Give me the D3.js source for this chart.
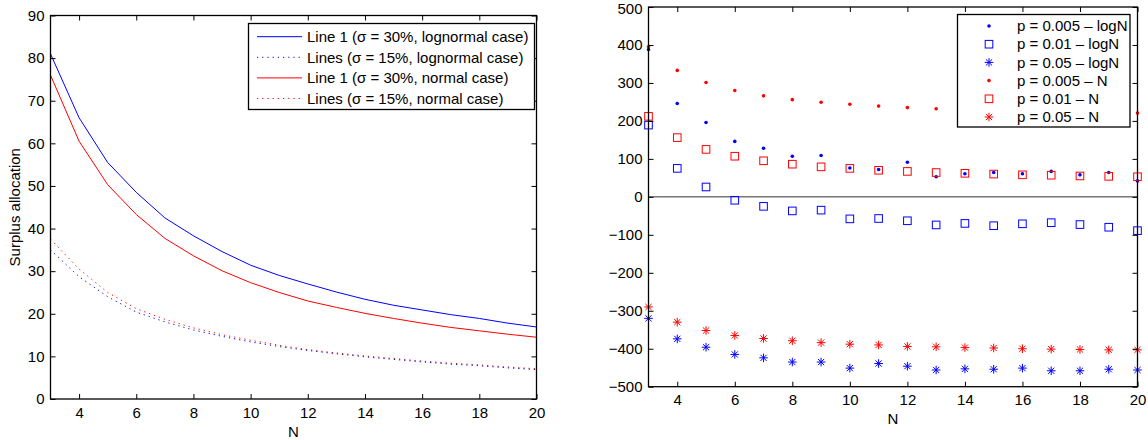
<!DOCTYPE html>
<html><head><meta charset="utf-8">
<script src="https://cdn.jsdelivr.net/npm/d3@7"></script>
<style>
body{margin:0;background:#fff;}
svg{display:block;font-family:"Liberation Sans",Arial,Helvetica,sans-serif;}
</style></head>
<body><svg id="c" width="1148" height="440"></svg>
<script>
// ---- data ----
const N = [3,4,5,6,7,8,9,10,11,12,13,14,15,16,17,18,19,20];
// left panel: surplus allocation
const logn30 = [81,66,55.5,48.5,42.5,38.3,34.6,31.4,29,27,25.1,23.4,22,20.9,19.8,18.9,17.8,16.9];
const logn15 = [35,28.7,24,20.4,18.1,16.2,14.7,13.4,12.3,11.4,10.6,9.9,9.3,8.7,8.2,7.8,7.3,6.9];
const norm30 = [76,60.5,50.3,43.3,37.7,33.6,30.1,27.3,25,23,21.5,20.1,18.9,17.8,16.8,16,15.2,14.5];
const norm15 = [37.5,30.5,25,21.2,18.7,16.7,15.1,13.8,12.6,11.6,10.8,10.1,9.5,8.9,8.4,8,7.5,7.1];
const leftYTicks = [0,10,20,30,40,50,60,70,80,90];
const xTicks = [4,6,8,10,12,14,16,18,20];
const leftLabels = ["Line 1 (σ = 30%, lognormal case)","Lines (σ = 15%, lognormal case)","Line 1 (σ = 30%, normal case)","Lines (σ = 15%, normal case)"];
// right panel
const p005logN = [388,246,196,146,128,107,109,76,72,91,53,61,64,61,67,58,64,42];
const p01logN  = [189,75,26,-9,-25,-37,-35,-58,-57,-63,-74,-70,-76,-71,-68,-73,-80,-89];
const p05logN  = [-320,-374,-396,-415,-424,-435,-435,-451,-439,-446,-456,-453,-454,-451,-458,-458,-454,-456];
const p005N    = [395,333,301,280,266,256,249,244,239,235,232,230,228,226,225,223,222,221];
const p01N     = [212,156,125,107,95,86,79,75,70,67,64,62,60,58,57,55,54,53];
const p05N     = [-290,-330,-352,-365,-373,-379,-384,-388,-390,-394,-395,-397,-398,-400,-401,-402,-403,-403];
const rightYTicks = [-500,-400,-300,-200,-100,0,100,200,300,400,500];
const rightLabels = ["p = 0.005 – logN","p = 0.01 – logN","p = 0.05 – logN","p = 0.005 – N","p = 0.01 – N","p = 0.05 – N"];

const svg = d3.select("#c");
const FS = 15;

function frame(x, y, yTicks, xTicks){
  const g = svg.append("g");
  const [x0,x1] = x.range(), [y0,y1] = y.range();
  const fmt = d => d < 0 ? "\u2212" + Math.abs(d) : String(d);
  const bx = g.append("g").attr("transform",`translate(0,${y0})`)
    .call(d3.axisBottom(x).tickValues(xTicks).tickSizeInner(-5).tickSizeOuter(0).tickPadding(8).tickFormat(fmt));
  const tx = g.append("g").attr("transform",`translate(0,${y1})`)
    .call(d3.axisTop(x).tickValues(xTicks).tickSizeInner(-5).tickSizeOuter(0).tickFormat(""));
  const ly = g.append("g").attr("transform",`translate(${x0},0)`)
    .call(d3.axisLeft(y).tickValues(yTicks).tickSizeInner(-5).tickSizeOuter(0).tickPadding(6).tickFormat(fmt));
  const ry = g.append("g").attr("transform",`translate(${x1},0)`)
    .call(d3.axisRight(y).tickValues(yTicks).tickSizeInner(-5).tickSizeOuter(0).tickFormat(""));
  [bx,tx,ly,ry].forEach(a=>{
    a.select(".domain").remove();
    a.selectAll("line").attr("stroke","#000").attr("stroke-width",1);
    a.selectAll("text").attr("font-size",FS).attr("fill","#000").attr("font-family","Liberation Sans, Arial, sans-serif");
  });
  // keep the top-most y label inside the picture
  ly.selectAll(".tick").filter(d => d === yTicks[yTicks.length-1]).select("text")
    .attr("dy", y1 < 10 ? "0.45em" : "0.32em");
  g.append("rect").attr("x",x0).attr("y",y1).attr("width",x1-x0).attr("height",y0-y1)
    .attr("fill","none").attr("stroke","#000").attr("stroke-width",1.3);
  return g;
}

// ---------- LEFT ----------
const xL = d3.scaleLinear().domain([3,20]).range([50.5,536.5]);
const yL = d3.scaleLinear().domain([0,90]).range([399,15.5]);
const plotL = svg.append("g");
const line = (ys) => d3.line().x((d,i)=>xL(N[i])).y(d=>yL(d))(ys);
const leftSeries = [
  {v:logn30,c:"#0000ff",dash:null},
  {v:logn15,c:"#0000ff",dash:"1.2,4"},
  {v:norm30,c:"#ff0000",dash:null},
  {v:norm15,c:"#ff0000",dash:"1.2,4"}
];
[leftSeries[3],leftSeries[1],leftSeries[2],leftSeries[0]].forEach(s=>{
  plotL.append("path").attr("d",line(s.v)).attr("fill","none").attr("stroke",s.c)
    .attr("stroke-width",1).attr("stroke-dasharray",s.dash);
});
frame(xL,yL,leftYTicks,xTicks);
svg.append("text").attr("x",xL(11.5)).attr("y",437).attr("text-anchor","middle").attr("font-size",FS).text("N");
svg.append("text").attr("transform",`translate(20,${(15.5+399)/2}) rotate(-90)`).attr("text-anchor","middle").attr("font-size",FS).text("Surplus allocation");
// legend left
const legL = svg.append("g");
legL.append("rect").attr("x",248.5).attr("y",23.5).attr("width",286).attr("height",86).attr("fill","#fff").attr("stroke","#000").attr("stroke-width",1.3);
leftLabels.forEach((t,i)=>{
  const cy = 36.7 + i*20.6;
  legL.append("line").attr("x1",257).attr("x2",302).attr("y1",cy).attr("y2",cy)
    .attr("stroke",leftSeries[i].c).attr("stroke-width",1).attr("stroke-dasharray",leftSeries[i].dash);
  legL.append("text").attr("x",307).attr("y",cy).attr("dy","0.35em").attr("font-size",FS).text(t);
});

// ---------- RIGHT ----------
const xR = d3.scaleLinear().domain([3,20]).range([648.5,1137.5]);
const yR = d3.scaleLinear().domain([-500,500]).range([386.7,7]);
const plotR = svg.append("g");
plotR.append("line").attr("x1",xR(3)).attr("x2",xR(20)).attr("y1",yR(0)).attr("y2",yR(0)).attr("stroke","#333").attr("stroke-width",1);

function marker(g, type, cx, cy, c){
  if(type==="dot"){
    g.append("circle").attr("cx",cx).attr("cy",cy).attr("r",1.8).attr("fill",c);
  } else if(type==="sq"){
    g.append("rect").attr("x",cx-3.8).attr("y",cy-3.8).attr("width",7.6).attr("height",7.6).attr("fill","none").attr("stroke",c).attr("stroke-width",1);
  } else {
    const r=4.3, d=r*0.72;
    const p = `M${cx-r},${cy}L${cx+r},${cy}M${cx},${cy-r}L${cx},${cy+r}M${cx-d},${cy-d}L${cx+d},${cy+d}M${cx-d},${cy+d}L${cx+d},${cy-d}`;
    g.append("path").attr("d",p).attr("stroke",c).attr("stroke-width",1).attr("fill","none");
  }
}
const rightSeries = [
  {v:p005logN,c:"#0000ff",m:"dot"},
  {v:p01logN,c:"#0000ff",m:"sq"},
  {v:p05logN,c:"#0000ff",m:"star"},
  {v:p005N,c:"#ff0000",m:"dot"},
  {v:p01N,c:"#ff0000",m:"sq"},
  {v:p05N,c:"#ff0000",m:"star"}
];
rightSeries.forEach(s=>{
  s.v.forEach((d,i)=>marker(plotR,s.m,xR(N[i]),yR(d),s.c));
});
frame(xR,yR,rightYTicks,xTicks);
svg.append("text").attr("x",xR(11.5)).attr("y",424).attr("text-anchor","middle").attr("font-size",FS).text("N");
// legend right
const legR = svg.append("g");
legR.append("rect").attr("x",957.5).attr("y",14.5).attr("width",172.5).attr("height",112.5).attr("fill","#fff").attr("stroke","#000").attr("stroke-width",1.3);
rightLabels.forEach((t,i)=>{
  const cy = 26 + i*18.2;
  marker(legR, rightSeries[i].m, 989, cy, rightSeries[i].c);
  legR.append("text").attr("x",1017).attr("y",cy).attr("dy","0.35em").attr("font-size",FS).text(t);
});
</script></body></html>
